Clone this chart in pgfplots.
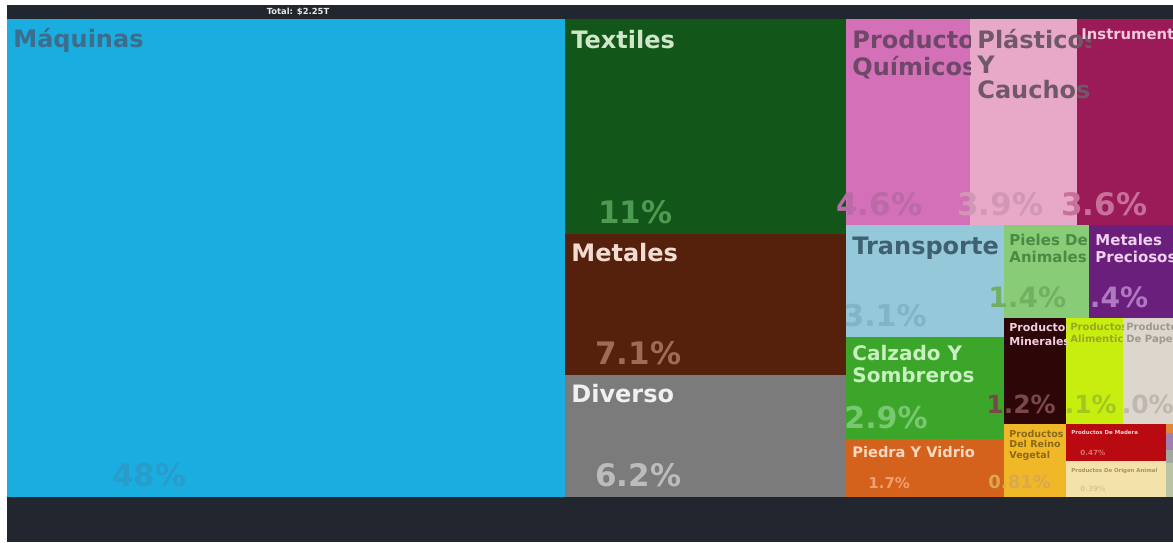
\documentclass[border=0pt]{standalone}
\usepackage{fontspec}
\setmainfont{DejaVu Sans}
\usepackage{pgfplots}
\pgfplotsset{compat=1.18}
\definecolor{bgdark}{HTML}{22262F}
\definecolor{cMaq}{HTML}{1AAEE0}
\definecolor{cTex}{HTML}{12561A}
\definecolor{cMet}{HTML}{55200C}
\definecolor{cDiv}{HTML}{7B7B7B}
\definecolor{cQui}{HTML}{D470B8}
\definecolor{cPla}{HTML}{E8A8C8}
\definecolor{cIns}{HTML}{9B1B58}
\definecolor{cTra}{HTML}{95C9DA}
\definecolor{cPie}{HTML}{88CC78}
\definecolor{cMPr}{HTML}{6B1F7C}
\definecolor{cCal}{HTML}{3BA62A}
\definecolor{cPVi}{HTML}{D4621C}
\definecolor{cMin}{HTML}{2D0707}
\definecolor{cAli}{HTML}{C8EE10}
\definecolor{cPap}{HTML}{DDD6CD}
\definecolor{cVeg}{HTML}{F0B828}
\definecolor{cMad}{HTML}{B80A10}
\definecolor{cOri}{HTML}{F3E3AA}
\definecolor{cS1}{HTML}{E08838}
\definecolor{cS2}{HTML}{A080B0}
\definecolor{cS3}{HTML}{A0A8A0}
\definecolor{cS4}{HTML}{B8C4A4}
% rectangle: x0 y0 x1 y1 colour (pixel units, y downwards)
\newcommand{\rect}[5]{\addplot[fill=#5, draw=none] coordinates {(#1,#2) (#3,#2) (#3,#4) (#1,#4)} --cycle;}
% clipped label: x0 y0 x1 y1 (clip) x y (base west of last line) style text
\newcommand{\clab}[8]{\pgfplotsextra{\begin{scope}\clip (axis cs:#1,#2) rectangle (axis cs:#3,#4);
 \node[anchor=base west, inner sep=0pt, align=left, #7] at (axis cs:#5,#6) {#8};\end{scope}}}
\newcommand{\lab}[4]{\node[anchor=base west, inner sep=0pt, align=left, #3] at (axis cs:#1,#2) {#4};}
\newcommand{\fs}[2]{\fontsize{#1}{#2}\selectfont\bfseries}
\begin{document}
\begin{tikzpicture}
\begin{axis}[scale only axis, width=586.5pt, height=271pt,
  xmin=0, xmax=1173, ymin=0, ymax=542, y dir=reverse, hide axis, clip=true]
\rect{0}{0}{1173}{542}{white}
\rect{7}{5}{1173}{542}{bgdark}
\rect{7}{19}{565}{497}{cMaq}
\rect{565}{19}{846}{234}{cTex}
\rect{565}{234}{846}{375}{cMet}
\rect{565}{375}{846}{497}{cDiv}
\rect{846}{19}{970}{225}{cQui}
\rect{970}{19}{1077}{225}{cPla}
\rect{1077}{19}{1173}{225}{cIns}
\rect{846}{225}{1004}{337}{cTra}
\rect{1004}{225}{1089}{318}{cPie}
\rect{1089}{225}{1173}{318}{cMPr}
\rect{846}{337}{1004}{439}{cCal}
\rect{846}{439}{1004}{497}{cPVi}
\rect{1004}{318}{1066}{424}{cMin}
\rect{1066}{318}{1123}{424}{cAli}
\rect{1123}{318}{1173}{424}{cPap}
\rect{1004}{424}{1066}{497}{cVeg}
\rect{1066}{424}{1166}{461}{cMad}
\rect{1066}{461}{1166}{497}{cOri}
\rect{1166}{424}{1173}{433}{cS1}
\rect{1166}{433}{1173}{450}{cS2}
\rect{1166}{450}{1173}{463}{cS3}
\rect{1166}{463}{1173}{497}{cS4}
% total
\node[inner sep=0pt, font=\fontsize{4.2}{5}\selectfont\bfseries, text={rgb,255:red,232;green,232;blue,232}] at (axis cs:298,12) {Total: \$2.25T};
% titles
\lab{13}{47}{font=\fs{12}{13.5}, text={rgb,255:red,61;green,108;blue,140}}{Máquinas}
\lab{571}{48}{font=\fs{12}{13.5}, text={rgb,255:red,207;green,230;blue,200}}{Textiles}
\lab{571}{261}{font=\fs{12}{13.5}, text={rgb,255:red,242;green,220;blue,210}}{Metales}
\lab{571}{402}{font=\fs{12}{13.5}, text={rgb,255:red,240;green,240;blue,240}}{Diverso}
\clab{846}{19}{970}{225}{852}{75}{font=\fs{12}{13.5}, text={rgb,255:red,110;green,72;blue,104}}{Productos\\Químicos}
\clab{970}{19}{1090}{225}{977}{98}{font=\fs{12}{12.5}, text={rgb,255:red,112;green,88;blue,104}}{Plásticos\\Y\\Cauchos}
\clab{1077}{19}{1173}{225}{1081}{39}{font=\fs{7.4}{9}, text={rgb,255:red,242;green,200;blue,220}}{Instrumentos}
\clab{846}{225}{1004}{337}{852}{254}{font=\fs{12}{13.5}, text={rgb,255:red,62;green,96;blue,112}}{Transporte}
\clab{1004}{225}{1089}{318}{1009}{262}{font=\fs{7.5}{8.5}, text={rgb,255:red,75;green,138;blue,66}}{Pieles De\\Animales}
\clab{1089}{225}{1173}{318}{1095}{262}{font=\fs{7.5}{8.5}, text={rgb,255:red,240;green,208;blue,240}}{Metales\\Preciosos}
\clab{846}{337}{1004}{439}{852}{382}{font=\fs{10}{11}, text={rgb,255:red,200;green,240;blue,192}}{Calzado Y\\Sombreros}
\clab{846}{439}{1004}{497}{852}{457}{font=\fs{7.3}{8}, text={rgb,255:red,250;green,216;blue,192}}{Piedra Y Vidrio}
\clab{1004}{318}{1066}{424}{1009}{345}{font=\fs{5.5}{7}, text={rgb,255:red,240;green,208;blue,224}}{Productos\\Minerales}
\clab{1066}{318}{1123}{424}{1070}{342}{font=\fs{5}{6}, text={rgb,255:red,154;green,168;blue,32}}{Productos\\Alimenticios}
\clab{1123}{318}{1173}{424}{1126}{342}{font=\fs{5}{6}, text={rgb,255:red,160;green,152;blue,144}}{Productos\\De Papel}
\clab{1004}{424}{1066}{497}{1009}{458}{font=\fs{4.75}{5.25}, text={rgb,255:red,138;green,106;blue,24}}{Productos\\Del Reino\\Vegetal}
\clab{1066}{424}{1166}{461}{1071}{434}{font=\fs{2.75}{3}, text={rgb,255:red,248;green,208;blue,208}}{Productos De Madera}
\clab{1066}{461}{1166}{497}{1071}{472}{font=\fs{2.7}{3}, text={rgb,255:red,168;green,144;blue,96}}{Productos De Origen Animal}
% percentages
\lab{112}{486}{font=\fs{15.5}{16}, text={rgb,255:red,42;green,156;blue,204}}{48\%}
\lab{598}{223}{font=\fs{15.5}{16}, text={rgb,255:red,77;green,154;blue,80}}{11\%}
\lab{595}{364}{font=\fs{15.5}{16}, text={rgb,255:red,160;green,106;blue,88}}{7.1\%}
\lab{595}{486}{font=\fs{15.5}{16}, text={rgb,255:red,188;green,188;blue,188}}{6.2\%}
\lab{836}{215}{font=\fs{15.5}{16}, text={rgb,255:red,186;green,106;blue,166}}{4.6\%}
\lab{957}{215}{font=\fs{15.5}{16}, text={rgb,255:red,208;green,152;blue,180}}{3.9\%}
\lab{1061}{215}{font=\fs{15.5}{16}, text={rgb,255:red,200;green,112;blue,154}}{3.6\%}
\clab{846}{225}{1004}{337}{843}{326}{font=\fs{15}{16}, text={rgb,255:red,128;green,180;blue,198}}{3.1\%}
\lab{988}{307}{font=\fs{14}{15}, text={rgb,255:red,112;green,176;blue,96}}{1.4\%}
\clab{1089}{225}{1173}{318}{1070}{307}{font=\fs{14}{15}, text={rgb,255:red,176;green,120;blue,192}}{1.4\%}
\clab{846}{337}{1004}{439}{844}{428}{font=\fs{15}{16}, text={rgb,255:red,120;green,200;blue,112}}{2.9\%}
\lab{868}{488}{font=\fs{7.5}{8}, text={rgb,255:red,240;green,160;blue,112}}{1.7\%}
\lab{986}{413}{font=\fs{12.5}{13}, text={rgb,255:red,122;green,72;blue,72}}{1.2\%}
\clab{1066}{318}{1123}{424}{1047}{413}{font=\fs{12.5}{13}, text={rgb,255:red,160;green,200;blue,32}}{1.1\%}
\clab{1123}{318}{1173}{424}{1104}{413}{font=\fs{12.5}{13}, text={rgb,255:red,192;green,184;blue,176}}{1.0\%}
\lab{988}{488}{font=\fs{9}{10}, text={rgb,255:red,217;green,169;blue,78}}{0.81\%}
\lab{1080}{455}{font=\fs{3.6}{4}, text={rgb,255:red,224;green,112;blue,112}}{0.47\%}
\lab{1080}{491}{font=\fs{3.6}{4}, text={rgb,255:red,216;green,200;blue,144}}{0.39\%}
\coordinate (BL) at (axis cs:0,542);
\coordinate (TR) at (axis cs:1173,0);
\end{axis}
\pgfresetboundingbox
\path[use as bounding box] (BL) rectangle (TR);
\end{tikzpicture}
\end{document}
